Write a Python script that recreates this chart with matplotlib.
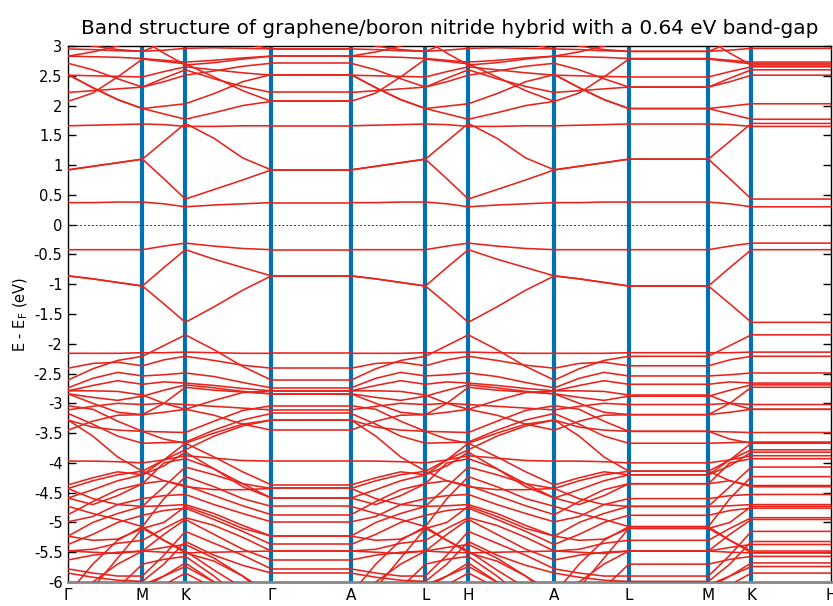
import matplotlib
matplotlib.use("Agg")
import matplotlib.pyplot as plt
from matplotlib.ticker import FuncFormatter

# --- high-symmetry path (cumulative |k| in units of Γ-M) ---
kpath_labels = ["Γ", "M", "K", "Γ", "A", "L", "H", "A", "L", "M", "K", "H"]
kpath_dist = [0.0, 1.0, 1.577, 2.732, 3.802, 4.802, 5.379, 6.534, 7.534, 8.604, 9.181, 10.251]

# in-plane energies (eV) sampled at: Γ, Γ-M 1/3, Γ-M 2/3, M, M-K 1/2, K, K-Γ 1/3, K-Γ 2/3, Γ
# the kz=π plane (A-L-H) repeats the same in-plane dispersion; Γ-A, L-M, K-H are flat
cond_bands = [
    [0.37, 0.37, 0.38, 0.38, 0.35, 0.30, 0.33, 0.35, 0.37],
    [0.92, 0.98, 1.04, 1.10, 0.77, 0.43, 0.59, 0.75, 0.92],
    [0.92, 0.98, 1.04, 1.10, 1.40, 1.70, 1.45, 1.12, 0.92],
    [1.66, 1.67, 1.68, 1.69, 1.68, 1.65, 1.65, 1.66, 1.66],
    [2.07, 2.21, 2.48, 2.78, 2.74, 2.70, 2.48, 2.25, 2.07],
    [2.52, 2.30, 2.10, 1.95, 1.99, 2.03, 2.20, 2.40, 2.52],
    [2.52, 2.30, 2.10, 1.95, 1.86, 1.77, 1.88, 2.00, 2.07],
    [2.22, 2.25, 2.28, 2.31, 2.40, 2.51, 2.58, 2.66, 2.71],
    [2.71, 2.60, 2.45, 2.31, 2.46, 2.60, 2.45, 2.32, 2.22],
    [2.51, 2.50, 2.49, 2.48, 2.57, 2.65, 2.60, 2.55, 2.51],
    [2.83, 2.82, 2.81, 2.79, 2.76, 2.73, 2.76, 2.80, 2.83],
    [2.95, 2.94, 2.92, 2.91, 2.93, 2.96, 2.97, 2.96, 2.95],
    [2.83, 2.90, 3.00, 3.10, 2.88, 2.68, 2.72, 2.78, 2.83],
    [3.10, 3.00, 2.94, 2.91, 3.05, 3.20, 3.15, 3.05, 2.95],
]

gap_bands = [
    [-0.42, -0.42, -0.42, -0.42, -0.36, -0.31, -0.36, -0.40, -0.42],
    [-0.86, -0.91, -0.97, -1.03, -0.72, -0.42, -0.58, -0.72, -0.86],
    [-0.86, -0.91, -0.97, -1.03, -1.33, -1.64, -1.38, -1.10, -0.86],
]

val_upper = [
    [-2.61, -2.42, -2.28, -2.21, -2.03, -1.85, -2.10, -2.38, -2.61],
    [-2.16, -2.16, -2.16, -2.15, -2.15, -2.14, -2.15, -2.16, -2.16],
    [-2.41, -2.33, -2.31, -2.37, -2.27, -2.21, -2.28, -2.36, -2.41],
    [-2.74, -2.58, -2.48, -2.54, -2.52, -2.49, -2.55, -2.65, -2.74],
    [-2.79, -2.70, -2.62, -2.68, -2.64, -2.66, -2.70, -2.75, -2.79],
    [-2.84, -2.90, -2.95, -2.88, -2.78, -2.69, -2.74, -2.80, -2.84],
    [-2.79, -2.79, -2.80, -2.86, -3.00, -3.10, -2.95, -2.82, -2.79],
    [-2.84, -3.00, -3.15, -3.19, -3.00, -2.73, -2.78, -2.81, -2.84],
]

val_lower = [
    [-3.04, -3.10, -3.30, -3.47, -3.48, -3.49, -3.30, -3.12, -3.04],
    [-3.11, -3.05, -3.00, -3.02, -3.00, -3.02, -3.05, -3.08, -3.11],
    [-3.17, -3.35, -3.55, -3.67, -3.66, -3.65, -3.45, -3.28, -3.17],
    [-3.28, -3.55, -3.90, -4.14, -3.95, -3.78, -3.55, -3.38, -3.28],
    [-3.45, -3.30, -3.20, -3.19, -3.15, -3.10, -3.20, -3.35, -3.45],
    [-3.97, -3.97, -3.98, -4.00, -3.95, -3.88, -3.92, -3.96, -3.97],
    [-4.37, -4.25, -4.15, -4.20, -3.95, -3.67, -3.90, -4.15, -4.37],
    [-4.43, -4.60, -4.70, -4.73, -4.40, -4.07, -4.20, -4.35, -4.43],
    [-4.59, -4.45, -4.30, -4.20, -4.05, -3.82, -4.10, -4.40, -4.59],
    [-4.73, -4.85, -4.95, -5.07, -4.60, -4.23, -4.40, -4.60, -4.73],
    [-4.87, -4.65, -4.45, -4.35, -4.30, -4.38, -4.55, -4.72, -4.87],
    [-4.99, -4.90, -4.70, -4.60, -4.55, -4.53, -4.70, -4.85, -4.99],
    [-5.23, -5.00, -4.85, -4.73, -4.72, -4.70, -4.85, -5.05, -5.23],
    [-5.37, -5.20, -5.00, -4.88, -4.80, -4.76, -4.95, -5.15, -5.37],
    [-5.48, -5.45, -5.35, -5.30, -5.10, -4.92, -5.05, -5.25, -5.48],
    [-5.63, -5.55, -5.50, -5.48, -5.20, -4.95, -5.20, -5.45, -5.63],
    [-5.78, -5.85, -5.90, -5.90, -5.55, -5.15, -5.35, -5.55, -5.78],
    [-5.85, -5.92, -5.97, -5.99, -5.70, -5.32, -5.55, -5.72, -5.85],
    [-6.30, -6.00, -5.70, -5.48, -5.42, -5.37, -5.60, -5.90, -6.30],
    [-6.50, -6.10, -5.60, -5.10, -5.30, -5.48, -5.80, -6.10, -6.50],
    [-6.20, -5.70, -5.30, -5.07, -5.30, -5.51, -5.65, -5.90, -6.20],
    [-6.80, -6.40, -6.10, -5.70, -5.62, -5.57, -5.90, -6.30, -6.80],
    [-7.00, -6.50, -6.20, -6.10, -5.90, -5.68, -6.00, -6.50, -7.00],
    [-6.40, -6.20, -6.10, -6.05, -5.90, -5.74, -6.00, -6.20, -6.40],
    [-6.60, -6.40, -6.30, -6.20, -6.05, -5.85, -6.10, -6.40, -6.60],
    [-4.59, -4.70, -4.55, -4.35, -4.00, -3.93, -4.10, -4.35, -4.59],
    [-3.28, -3.40, -3.45, -3.47, -3.60, -3.67, -3.50, -3.35, -3.28],
    [-4.43, -4.30, -4.20, -4.14, -4.30, -4.40, -4.45, -4.45, -4.43],
    [-5.23, -5.30, -5.28, -5.10, -5.00, -4.73, -4.90, -5.10, -5.23],
    [-5.48, -5.50, -5.52, -5.48, -5.50, -5.51, -5.50, -5.49, -5.48],
]

BAND_COLOR = "#e8231c"
KLINE_COLOR = "#0072b2"


def plane_x(g0, m, k, g1):
    """x positions of the 9 in-plane samples on a Γ-M-K-Γ type block."""
    return [g0, g0 + (m - g0) / 3, g0 + 2 * (m - g0) / 3, m,
            (m + k) / 2, k, k + (g1 - k) / 3, k + 2 * (g1 - k) / 3, g1]


def band_pieces(e):
    d = kpath_dist
    pieces = []
    # Γ-M-K-Γ
    pieces.append((plane_x(d[0], d[1], d[2], d[3]), e))
    # Γ-A (flat)
    pieces.append(([d[3], d[4]], [e[8], e[8]]))
    # A-L-H-A
    pieces.append((plane_x(d[4], d[5], d[6], d[7]), e))
    # A-L, L-M (flat), M-K, K-H (flat)
    al = plane_x(d[7], d[8], d[8], d[8])[:4]
    xs = al + [d[9], (d[9] + d[10]) / 2, d[10], d[11]]
    ys = list(e[:4]) + [e[3], e[4], e[5], e[5]]
    pieces.append((xs, ys))
    return pieces


def main():
    plt.rcParams["font.family"] = ["DejaVu Sans"]
    fig = plt.figure(figsize=(8.33, 6.06), dpi=100)
    ax = fig.add_axes([68 / 833, 1 - 582 / 606, (831 - 68) / 833, (582 - 46) / 606])

    for xk in kpath_dist[1:-1]:
        ax.axvline(xk, color=KLINE_COLOR, lw=3.0, zorder=1)

    ax.axhline(0.0, color="#333333", lw=0.7, ls=(0, (2, 2)), zorder=2)

    for group in (cond_bands, gap_bands, val_upper, val_lower):
        for e in group:
            for xs, ys in band_pieces(e):
                ax.plot(xs, ys, color=BAND_COLOR, lw=1.15, zorder=3)

    ax.set_xlim(kpath_dist[0], kpath_dist[-1])
    ax.set_ylim(-6, 3)
    ax.set_xticks(kpath_dist)
    ax.set_xticklabels(kpath_labels, fontsize=11)
    ax.tick_params(axis="x", length=0, pad=4)

    ax.set_yticks([-6 + 0.5 * i for i in range(19)])
    ax.yaxis.set_major_formatter(FuncFormatter(lambda v, _: f"{v:g}"))
    ax.tick_params(axis="y", direction="in", length=6, width=1.0,
                   right=True, labelsize=10.5, pad=4)

    for side in ("left", "right", "top"):
        ax.spines[side].set_color("black")
        ax.spines[side].set_linewidth(1.0)
    ax.spines["bottom"].set_color("#888888")
    ax.spines["bottom"].set_linewidth(2.0)

    ax.set_ylabel(r"E - E$_\mathrm{F}$ (eV)", fontsize=10.5, labelpad=3)
    ax.set_title("Band structure of graphene/boron nitride hybrid with a 0.64 eV band-gap",
                 fontsize=14.4, pad=9)

    fig.savefig("out.png", dpi=100)
    plt.close(fig)


if __name__ == "__main__":
    main()
